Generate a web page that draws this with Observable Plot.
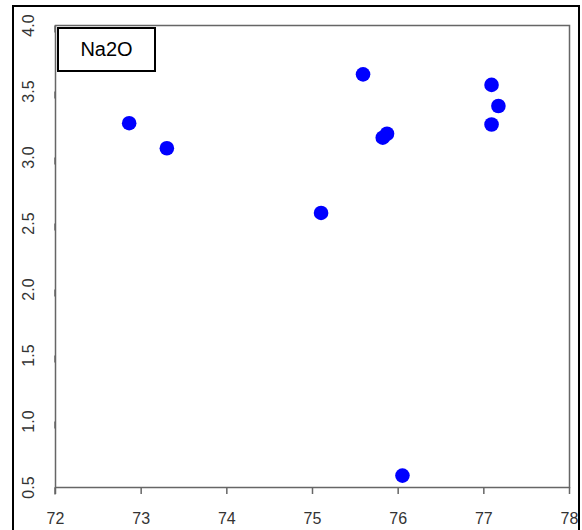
<!DOCTYPE html>
<html>
<head>
<meta charset="utf-8">
<script src="https://cdn.jsdelivr.net/npm/d3@7"></script>
<script src="https://cdn.jsdelivr.net/npm/@observablehq/plot@0.6"></script>
<style>
  html, body { margin: 0; padding: 0; background: #fff; }
  #wrap { position: relative; width: 582px; height: 530px; overflow: hidden; }
  #border {
    position: absolute; left: 12px; top: 5px; width: 568px; height: 540px;
    border: 2.5px solid #000; box-sizing: border-box; pointer-events: none;
  }
  #key {
    position: absolute; left: 57px; top: 27px; width: 99px; height: 45px;
    border: 2px solid #000; box-sizing: border-box; background: #fff;
    font: 20px "Liberation Sans", Arial, sans-serif; color: #000;
    display: flex; align-items: center; justify-content: center;
  }
</style>
</head>
<body>
<div id="wrap">
  <div id="chart"></div>
  <div id="border"></div>
  <div id="key">Na2O</div>
</div>
<script>
// SiO2 (x) against Na2O (y) for ten samples
const sio2 = [72.86, 73.30, 75.10, 75.59, 75.82, 75.87, 77.09, 77.17, 77.09, 76.05];
const na2o = [3.26, 3.07, 2.58, 3.63, 3.15, 3.18, 3.55, 3.39, 3.25, 0.59];

const xTicks = [72, 73, 74, 75, 76, 77, 78];
const yTicks = [0.5, 1.0, 1.5, 2.0, 2.5, 3.0, 3.5, 4.0];

const samples = sio2.map((x, i) => ({x, y: na2o[i]}));

const axisColor = "#666";
const labelFont = {fontSize: 16, fill: "#333"};

const chart = Plot.plot({
  width: 582,
  height: 530,
  marginLeft: 55,
  marginRight: 13,
  marginTop: 25,
  marginBottom: 43,
  style: {fontFamily: "'Liberation Sans', Arial, sans-serif", background: "#fff", overflow: "visible"},
  x: {domain: [72, 78]},
  y: {domain: [0.5, 4.0]},
  marks: [
    Plot.frame({stroke: axisColor, strokeWidth: 1.5}),
    Plot.axisX({
      ticks: xTicks, tickFormat: d => String(d), tickSize: 7, tickPadding: 18,
      stroke: axisColor, strokeWidth: 1.5, label: null, ...labelFont
    }),
    Plot.axisY({
      ticks: yTicks, tickFormat: d3.format(".1f"), tickSize: 7, tickPadding: 20,
      rotate: -90, textAnchor: "middle", lineAnchor: "middle",
      stroke: axisColor, strokeWidth: 1.5, label: null, ...labelFont
    }),
    Plot.dot(samples, {x: "x", y: "y", r: 7.3, fill: "#0000ff", stroke: null})
  ]
});

document.getElementById("chart").appendChild(chart);
</script>
</body>
</html>
